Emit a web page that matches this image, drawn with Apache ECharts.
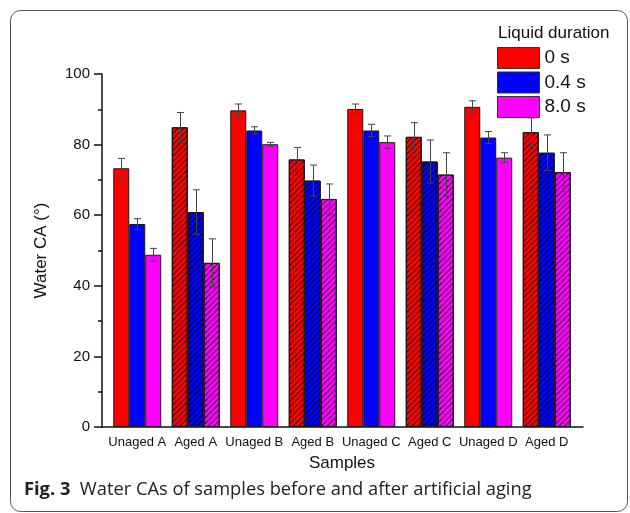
<!DOCTYPE html>
<html>
<head>
<meta charset="utf-8">
<script src="https://cdn.jsdelivr.net/npm/echarts@6/dist/echarts.min.js"></script>
<style>
  html, body { margin: 0; padding: 0; background: #fff; }
  #chart { width: 630px; height: 513px; }
</style>
</head>
<body>
<div id="chart"></div>
<script>
// Water contact angle per sample and liquid duration (mean and standard deviation)
const categories = ['Unaged A', 'Aged A', 'Unaged B', 'Aged B', 'Unaged C', 'Aged C', 'Unaged D', 'Aged D'];
const seriesNames = ['0 s', '0.4 s', '8.0 s'];
const ca0s  = [73.3, 84.9, 89.7, 75.8, 90.1, 82.2, 90.7, 83.5];
const err0s = [2.8, 4.2, 1.8, 3.4, 1.4, 4.0, 1.7, 4.05];
const ca04s  = [57.5, 60.9, 84.0, 69.8, 84.0, 75.2, 82.0, 77.7];
const err04s = [1.5, 6.3, 1.05, 4.4, 1.75, 6.1, 1.7, 5.05];
const ca80s  = [48.8, 46.5, 80.1, 64.6, 80.7, 71.5, 76.3, 72.2];
const err80s = [1.8, 6.8, 0.55, 4.25, 1.75, 6.2, 1.4, 5.5];
const yTicks = [0, 20, 40, 60, 80, 100];

const colors = ['#ff0000', '#0000ff', '#ff00ff'];
const values = [ca0s, ca04s, ca80s];
const errors = [err0s, err04s, err80s];
const FONT = '"Liberation Sans", Arial, sans-serif';
const CAT_GAP = 0.18;
const Y_MIN = yTicks[0];
const Y_MAX = yTicks[yTicks.length - 1];

// diagonal hatching for the aged samples
const hatch = {
  symbol: 'rect',
  symbolSize: 1,
  dashArrayX: [1, 0],
  dashArrayY: [1, 3],
  rotation: -Math.PI / 4,
  color: 'rgba(0,0,0,0.8)'
};
const isAged = name => name.indexOf('Aged') === 0;

const barSeries = values.map((vals, s) => ({
  name: seriesNames[s],
  type: 'bar',
  barGap: '0%',
  barCategoryGap: (CAT_GAP * 100) + '%',
  itemStyle: { color: colors[s], borderColor: '#1a1a1a', borderWidth: 1 },
  data: vals.map((v, i) => isAged(categories[i])
    ? { value: v, itemStyle: { decal: hatch } }
    : v)
}));

const errorSeries = values.map((vals, s) => ({
  name: seriesNames[s] + ' err',
  type: 'custom',
  z: 5,
  data: vals.map((v, i) => [i, v - errors[s][i], v + errors[s][i]]),
  renderItem: (params, api) => {
    const idx = api.value(0);
    const band = api.size([1, 0])[0];
    const bw = band * (1 - CAT_GAP) / 3;
    const cx = Math.round(api.coord([idx, 0])[0] + (s - 1) * bw) + 0.5;
    const lo = api.coord([idx, api.value(1)])[1];
    const hi = api.coord([idx, api.value(2)])[1];
    const cap = 3.5;
    const st = { stroke: '#444', lineWidth: 1, fill: null };
    return {
      type: 'group',
      children: [
        { type: 'line', shape: { x1: cx, y1: lo, x2: cx, y2: hi }, style: st },
        { type: 'line', shape: { x1: cx - cap, y1: hi, x2: cx + cap, y2: hi }, style: st },
        { type: 'line', shape: { x1: cx - cap, y1: lo, x2: cx + cap, y2: lo }, style: st }
      ]
    };
  }
}));

const chart = echarts.init(document.getElementById('chart'), null, { renderer: 'canvas' });
chart.setOption({
  animation: false,
  backgroundColor: '#fff',
  textStyle: { fontFamily: FONT },
  title: [
    {
      text: 'Liquid duration',
      left: 498, top: 25, padding: 0,
      textStyle: { fontFamily: FONT, fontSize: 17, fontWeight: 'normal', color: '#111' }
    },
    {
      text: '{b|Fig. 3}  Water CAs of samples before and after artificial aging',
      left: 24, top: 481, padding: 0,
      textStyle: {
        fontFamily: '"Open Sans", sans-serif', fontSize: 18.3, fontWeight: 'normal', color: '#222',
        rich: { b: { fontFamily: '"Open Sans", sans-serif', fontSize: 18.3, fontWeight: 'bold', color: '#222' } }
      }
    }
  ],
  legend: {
    data: seriesNames,
    orient: 'vertical',
    left: 497, top: 47, padding: 0,
    itemWidth: 42, itemHeight: 21, itemGap: 2.5,
    icon: 'rect',
    itemStyle: { borderColor: '#333', borderWidth: 1 },
    textStyle: { fontFamily: FONT, fontSize: 19, color: '#111' }
  },
  grid: [
    { left: 108, right: 54, top: 74, bottom: 86 },
    { left: 102, right: 47, top: 74, bottom: 86 }
  ],
  xAxis: [
    {
      type: 'category',
      data: categories,
      gridIndex: 0,
      axisLine: { show: false },
      axisTick: { show: false },
      axisLabel: { fontFamily: FONT, fontSize: 13, color: '#111', margin: 9, interval: 0 },
      name: 'Samples',
      nameLocation: 'middle',
      nameGap: 28,
      nameTextStyle: { fontFamily: FONT, fontSize: 17, color: '#111' }
    },
    {
      type: 'value',
      gridIndex: 1,
      min: 0, max: 1,
      axisLine: { show: true, lineStyle: { color: '#111', width: 1.5 } },
      axisTick: { show: false },
      axisLabel: { show: false },
      splitLine: { show: false }
    }
  ],
  yAxis: [
    { type: 'value', gridIndex: 0, show: false, min: Y_MIN, max: Y_MAX },
    {
      type: 'value',
      gridIndex: 1,
      min: Y_MIN, max: Y_MAX, interval: 20,
      axisLine: { show: true, lineStyle: { color: '#111', width: 1.5 } },
      axisTick: { show: true, length: 8, lineStyle: { color: '#111', width: 1.5 } },
      minorTick: { show: true, splitNumber: 2, length: 4, lineStyle: { color: '#111', width: 1.5 } },
      splitLine: { show: false },
      axisLabel: { fontFamily: FONT, fontSize: 15, color: '#111', margin: 12 },
      name: 'Water CA (°)',
      nameLocation: 'middle',
      nameRotate: 90,
      nameGap: 52,
      nameTextStyle: { fontFamily: FONT, fontSize: 17, color: '#111' }
    }
  ],
  graphic: [
    {
      type: 'rect',
      shape: { x: 10.5, y: 10.5, width: 617, height: 501, r: 10 },
      style: { fill: null, stroke: '#555', lineWidth: 1 },
      silent: true,
      z: -1
    }
  ],
  series: barSeries.concat(errorSeries)
});
</script>
</body>
</html>
